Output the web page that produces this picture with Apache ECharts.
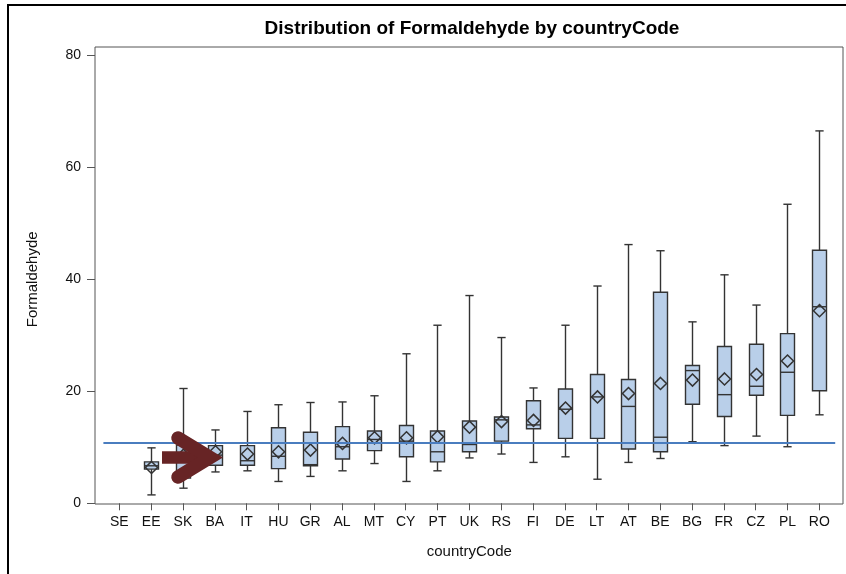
<!DOCTYPE html>
<html><head><meta charset="utf-8">
<script src="https://cdn.jsdelivr.net/npm/echarts@6/dist/echarts.min.js"></script>
<style>html,body{margin:0;padding:0;background:#fff}#c{width:846px;height:574px}</style>
</head><body><div id="c"></div>
<script>
const categories = ['SE','EE','SK','BA','IT','HU','GR','AL','MT','CY','PT','UK','RS','FI','DE','LT','AT','BE','BG','FR','CZ','PL','RO'];
const lowWhisker  = [null, 1.5, 2.7, 5.6, 5.8, 3.9, 4.8, 5.8, 7.1, 3.9, 5.8, 8.1, 8.8, 7.3, 8.3, 4.3, 7.3, 8.0, 11.0, 10.3, 12.0, 10.1, 15.8];
const q1Values    = [null, 6.1, 4.5, 6.8, 6.8, 6.2, 6.7, 7.9, 9.4, 8.3, 7.4, 9.2, 11.1, 13.3, 11.6, 11.6, 9.7, 9.2, 17.7, 15.5, 19.3, 15.7, 20.1];
const medianValues= [null, 6.7, 7.8, 8.6, 7.6, 8.4, 6.9, 10.1, 11.4, 11.1, 9.2, 10.5, 14.9, 14.0, 16.8, 19.0, 17.3, 11.8, 23.7, 19.4, 20.9, 23.4, 35.1];
const q3Values    = [null, 7.4, 10.4, 10.3, 10.3, 13.5, 12.7, 13.7, 12.9, 13.9, 12.9, 14.7, 15.4, 18.3, 20.4, 23.0, 22.1, 37.7, 24.6, 28.0, 28.4, 30.3, 45.2];
const highWhisker = [null, 9.9, 20.5, 13.1, 16.4, 17.6, 18.0, 18.1, 19.2, 26.7, 31.8, 37.1, 29.6, 20.6, 31.8, 38.8, 46.2, 45.1, 32.4, 40.8, 35.4, 53.4, 66.5];
const meanValues  = [null, 6.4, 8.6, 9.2, 8.8, 9.2, 9.5, 10.7, 11.7, 11.7, 11.9, 13.6, 14.6, 14.8, 17.0, 19.0, 19.6, 21.4, 22.0, 22.2, 23.0, 25.4, 34.4];
const referenceValue = 10.8;
const yTicks = { min: 0, max: 80, interval: 20 };

const FONT = "'Liberation Sans', Arial, sans-serif";
const boxData = categories.map((c, i) => [i, lowWhisker[i], q1Values[i], medianValues[i], q3Values[i], highWhisker[i], meanValues[i]]);

function renderBox(params, api) {
  const i = api.value(0);
  const lo = api.value(1);
  if (lo == null || isNaN(lo)) return null;
  const band = api.size([1, 0])[0];
  const bw = band * 0.44, cw = band * 0.26, dh = band * 0.19;
  const pLo = api.coord([i, lo]);
  const pQ1 = api.coord([i, api.value(2)]);
  const pMed = api.coord([i, api.value(3)]);
  const pQ3 = api.coord([i, api.value(4)]);
  const pHi = api.coord([i, api.value(5)]);
  const pMean = api.coord([i, api.value(6)]);
  const cx = Math.round(pLo[0]) + 0.5;
  const stroke = '#333';
  const ls = { stroke: stroke, lineWidth: 1.4 };
  return { type: 'group', children: [
    { type: 'line', shape: { x1: cx, y1: pHi[1], x2: cx, y2: pQ3[1] }, style: ls },
    { type: 'line', shape: { x1: cx, y1: pQ1[1], x2: cx, y2: pLo[1] }, style: ls },
    { type: 'line', shape: { x1: cx - cw / 2, y1: pHi[1], x2: cx + cw / 2, y2: pHi[1] }, style: ls },
    { type: 'line', shape: { x1: cx - cw / 2, y1: pLo[1], x2: cx + cw / 2, y2: pLo[1] }, style: ls },
    { type: 'rect', shape: { x: cx - bw / 2, y: pQ3[1], width: bw, height: pQ1[1] - pQ3[1] }, style: { fill: '#B9CFE9', stroke: stroke, lineWidth: 1.4 } },
    { type: 'line', shape: { x1: cx - bw / 2, y1: pMed[1], x2: cx + bw / 2, y2: pMed[1] }, style: ls },
    { type: 'polygon', shape: { points: [[cx, pMean[1] - dh], [cx + dh, pMean[1]], [cx, pMean[1] + dh], [cx - dh, pMean[1]]] }, style: { fill: 'none', stroke: stroke, lineWidth: 1.5 } }
  ]};
}

const chart = echarts.init(document.getElementById('c'), null, { renderer: 'canvas' });
chart.setOption({
  animation: false,
  backgroundColor: '#fff',
  title: {
    text: 'Distribution of Formaldehyde by countryCode',
    left: '55.2%', textAlign: 'center', top: 14,
    textStyle: { fontFamily: FONT, fontWeight: 'bold', fontSize: 19, color: '#000' }
  },
  grid: [
    { left: 95, top: 47, right: 3, bottom: 70, show: true, borderColor: '#555', borderWidth: 1, backgroundColor: 'transparent' },
    { left: 103.4, top: 55.3, right: 10.8, bottom: 70.7 }
  ],
  xAxis: [
    { gridIndex: 0, type: 'value', show: false, min: 0, max: 1 },
    { gridIndex: 1, type: 'category', data: categories,
      axisLine: { show: false },
      axisTick: { show: true, alignWithLabel: true, length: 7, lineStyle: { color: '#555', width: 1 } },
      axisLabel: { margin: 12, fontFamily: FONT, fontSize: 14, color: '#111', interval: 0 },
      name: 'countryCode', nameLocation: 'middle', nameGap: 41,
      nameTextStyle: { fontFamily: FONT, fontSize: 15, color: '#111' }
    }
  ],
  yAxis: [
    { gridIndex: 0, type: 'value', show: false, min: 0, max: 1 },
    { gridIndex: 1, type: 'value', min: yTicks.min, max: yTicks.max, interval: yTicks.interval, offset: 8.4,
      axisLine: { show: false },
      axisTick: { show: true, length: 8, lineStyle: { color: '#555', width: 1 } },
      splitLine: { show: false },
      axisLabel: { margin: 14, fontFamily: FONT, fontSize: 14, color: '#111' },
      name: 'Formaldehyde', nameLocation: 'middle', nameGap: 55,
      nameTextStyle: { fontFamily: FONT, fontSize: 15, color: '#111' }
    }
  ],
  series: [
    { type: 'line', xAxisIndex: 1, yAxisIndex: 1, data: [], silent: true,
      markLine: { silent: true, symbol: 'none', label: { show: false },
        lineStyle: { color: '#4A7DBF', width: 2, type: 'solid' },
        data: [{ yAxis: referenceValue }] } },
    { type: 'custom', xAxisIndex: 1, yAxisIndex: 1, data: boxData, renderItem: renderBox,
      encode: { x: 0, y: [1, 2, 3, 4, 5, 6] }, z: 3 }
  ],
  graphic: [
    { type: 'rect', shape: { x: 8, y: 5, width: 900, height: 700 }, style: { fill: 'none', stroke: '#000', lineWidth: 2 }, z: 100 },
    { type: 'line', shape: { x1: 162, y1: 457.5, x2: 207, y2: 457.5 }, style: { stroke: '#672425', lineWidth: 12.5, lineCap: 'butt' }, z: 100 },
    { type: 'polyline', shape: { points: [[178, 438], [210, 457.5], [178, 477]] }, style: { stroke: '#672425', lineWidth: 13.5, lineCap: 'round', lineJoin: 'miter', fill: 'none' }, z: 100 }
  ]
});
</script>
</body></html>
